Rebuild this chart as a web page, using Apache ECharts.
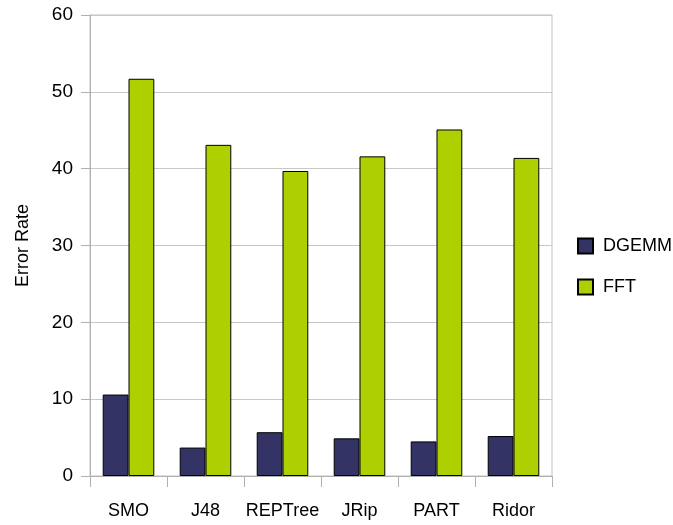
<!DOCTYPE html>
<html><head><meta charset="utf-8">
<script src="https://cdn.jsdelivr.net/npm/echarts@6/dist/echarts.min.js"></script>
<style>html,body{margin:0;padding:0;background:#fff}#c{width:673px;height:525px}</style>
</head><body><div id="c"></div>
<script>
const categories = ['SMO', 'J48', 'REPTree', 'JRip', 'PART', 'Ridor'];
const dgemm = [10.6, 3.7, 5.7, 4.9, 4.5, 5.2];
const fft = [51.7, 43.1, 39.7, 41.6, 45.1, 41.4];
const yTicks = [0, 10, 20, 30, 40, 50, 60];

const chart = echarts.init(document.getElementById('c'));
const font = 'Liberation Sans, Arial, sans-serif';
chart.setOption({
  animation: false,
  backgroundColor: '#fff',
  textStyle: { fontFamily: font },
  grid: { left: 90, right: 121, top: 15, bottom: 49, show: true, borderColor: '#c0c0c0', borderWidth: 1 },
  legend: {
    orient: 'vertical', left: 572, top: 232, itemWidth: 15, itemHeight: 15, itemGap: 23,
    textStyle: { fontSize: 18, color: '#000', fontFamily: font, padding: [0, 0, 0, 5] },
    data: ['DGEMM', 'FFT'], icon: 'rect'
  },
  xAxis: {
    type: 'category', data: categories,
    axisLine: { lineStyle: { color: '#b0b0b0' } },
    axisTick: { show: true, length: 11, lineStyle: { color: '#b0b0b0' } },
    axisLabel: { fontSize: 18, color: '#000', margin: 26, interval: 0, fontFamily: font }
  },
  yAxis: {
    type: 'value', min: yTicks[0], max: yTicks[yTicks.length - 1], interval: 10,
    name: 'Error Rate', nameLocation: 'middle', nameGap: 58, nameRotate: 90,
    nameTextStyle: { fontSize: 18, color: '#000', fontFamily: font },
    axisLine: { show: true, lineStyle: { color: '#b0b0b0' } },
    axisTick: { show: true, length: 9, lineStyle: { color: '#b0b0b0' } },
    axisLabel: { fontSize: 19, color: '#000', margin: 17, fontFamily: font },
    splitLine: { lineStyle: { color: '#c8c8c8', width: 1 } }
  },
  series: [
    { name: 'DGEMM', type: 'bar', data: dgemm, barGap: '0%', barCategoryGap: '33%',
      itemStyle: { color: '#333366', borderColor: '#000', borderWidth: 1 } },
    { name: 'FFT', type: 'bar', data: fft, barGap: '0%', barCategoryGap: '33%',
      itemStyle: { color: '#aecf00', borderColor: '#000', borderWidth: 1 } }
  ]
});
</script></body></html>
